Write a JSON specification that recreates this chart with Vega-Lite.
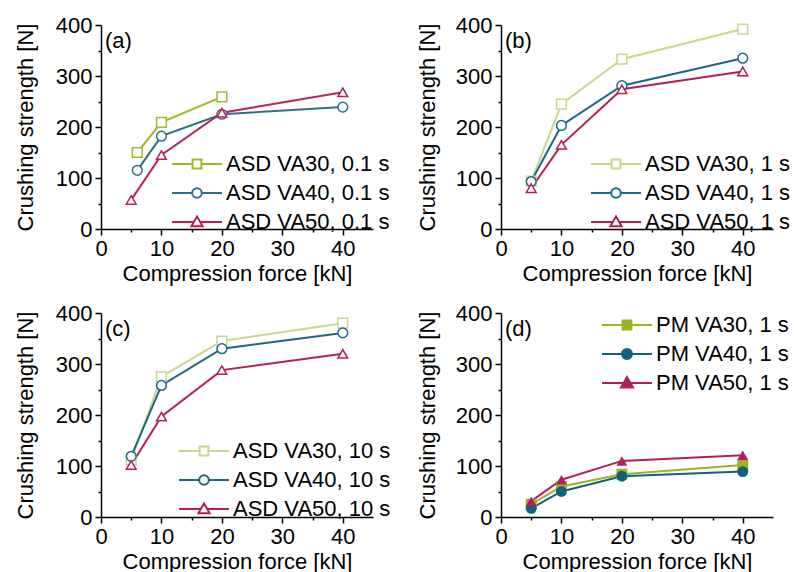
{
  "$schema": "https://vega.github.io/schema/vega-lite/v6.json",
  "background": "white",
  "padding": {"left": 14, "top": 14, "right": 0, "bottom": 0},
  "autosize": {"type": "pad"},
  "columns": 2,
  "spacing": {"row": 84, "column": 128},
  "bounds": "flush",
  "resolve": {"scale": {"color": "independent", "shape": "independent"}, "legend": {"color": "independent", "shape": "independent"}},
  "config": {
    "view": {"stroke": null},
    "font": "Liberation Sans",
    "axis": {
      "grid": false, "domainColor": "black", "domainWidth": 1.5, "tickColor": "black", "tickWidth": 1.5,
      "labelColor": "black", "titleColor": "black", "labelFont": "Liberation Sans", "titleFont": "Liberation Sans",
      "labelFontSize": 22, "titleFontSize": 22, "titleFontWeight": "normal", "labelOverlap": false, "labelFlush": false, "labelPadding": 3
    },
    "title": {"font": "Liberation Sans", "fontSize": 22, "fontWeight": "normal", "color": "black", "anchor": "start", "frame": "group", "baseline": "top", "offset": 0, "dx": 4, "dy": 43},
    "legend": {"orient": "none", "title": null, "labelFont": "Liberation Sans", "labelFontSize": 22, "labelColor": "black", "padding": 0, "rowPadding": 7, "symbolSize": 64, "symbolOffset": 0, "labelOffset": 18, "labelLimit": 400}
  },
  "data": {"values": [
    {"panel": "a", "series": "ASD VA30, 0.1 s", "grade": "VA30", "force": 6, "strength": 150},
    {"panel": "a", "series": "ASD VA30, 0.1 s", "grade": "VA30", "force": 10, "strength": 209},
    {"panel": "a", "series": "ASD VA30, 0.1 s", "grade": "VA30", "force": 20, "strength": 259},
    {"panel": "a", "series": "ASD VA40, 0.1 s", "grade": "VA40", "force": 6, "strength": 115},
    {"panel": "a", "series": "ASD VA40, 0.1 s", "grade": "VA40", "force": 10, "strength": 182},
    {"panel": "a", "series": "ASD VA40, 0.1 s", "grade": "VA40", "force": 20, "strength": 225},
    {"panel": "a", "series": "ASD VA40, 0.1 s", "grade": "VA40", "force": 40, "strength": 239},
    {"panel": "a", "series": "ASD VA50, 0.1 s", "grade": "VA50", "force": 5, "strength": 57},
    {"panel": "a", "series": "ASD VA50, 0.1 s", "grade": "VA50", "force": 10, "strength": 145},
    {"panel": "a", "series": "ASD VA50, 0.1 s", "grade": "VA50", "force": 20, "strength": 228},
    {"panel": "a", "series": "ASD VA50, 0.1 s", "grade": "VA50", "force": 40, "strength": 268},
    {"panel": "b", "series": "ASD VA30, 1 s", "grade": "VA30", "force": 5, "strength": 94},
    {"panel": "b", "series": "ASD VA30, 1 s", "grade": "VA30", "force": 10, "strength": 245},
    {"panel": "b", "series": "ASD VA30, 1 s", "grade": "VA30", "force": 20, "strength": 333},
    {"panel": "b", "series": "ASD VA30, 1 s", "grade": "VA30", "force": 40, "strength": 392},
    {"panel": "b", "series": "ASD VA40, 1 s", "grade": "VA40", "force": 5, "strength": 93},
    {"panel": "b", "series": "ASD VA40, 1 s", "grade": "VA40", "force": 10, "strength": 203},
    {"panel": "b", "series": "ASD VA40, 1 s", "grade": "VA40", "force": 20, "strength": 281},
    {"panel": "b", "series": "ASD VA40, 1 s", "grade": "VA40", "force": 40, "strength": 335},
    {"panel": "b", "series": "ASD VA50, 1 s", "grade": "VA50", "force": 5, "strength": 80},
    {"panel": "b", "series": "ASD VA50, 1 s", "grade": "VA50", "force": 10, "strength": 165},
    {"panel": "b", "series": "ASD VA50, 1 s", "grade": "VA50", "force": 20, "strength": 274},
    {"panel": "b", "series": "ASD VA50, 1 s", "grade": "VA50", "force": 40, "strength": 309},
    {"panel": "c", "series": "ASD VA30, 10 s", "grade": "VA30", "force": 5, "strength": 112},
    {"panel": "c", "series": "ASD VA30, 10 s", "grade": "VA30", "force": 10, "strength": 275},
    {"panel": "c", "series": "ASD VA30, 10 s", "grade": "VA30", "force": 20, "strength": 345},
    {"panel": "c", "series": "ASD VA30, 10 s", "grade": "VA30", "force": 40, "strength": 380},
    {"panel": "c", "series": "ASD VA40, 10 s", "grade": "VA40", "force": 5, "strength": 119},
    {"panel": "c", "series": "ASD VA40, 10 s", "grade": "VA40", "force": 10, "strength": 258},
    {"panel": "c", "series": "ASD VA40, 10 s", "grade": "VA40", "force": 20, "strength": 330},
    {"panel": "c", "series": "ASD VA40, 10 s", "grade": "VA40", "force": 40, "strength": 361},
    {"panel": "c", "series": "ASD VA50, 10 s", "grade": "VA50", "force": 5, "strength": 102},
    {"panel": "c", "series": "ASD VA50, 10 s", "grade": "VA50", "force": 10, "strength": 197},
    {"panel": "c", "series": "ASD VA50, 10 s", "grade": "VA50", "force": 20, "strength": 288},
    {"panel": "c", "series": "ASD VA50, 10 s", "grade": "VA50", "force": 40, "strength": 320},
    {"panel": "d", "series": "PM VA30, 1 s", "grade": "VA30", "force": 5, "strength": 25},
    {"panel": "d", "series": "PM VA30, 1 s", "grade": "VA30", "force": 10, "strength": 60},
    {"panel": "d", "series": "PM VA30, 1 s", "grade": "VA30", "force": 20, "strength": 84},
    {"panel": "d", "series": "PM VA30, 1 s", "grade": "VA30", "force": 40, "strength": 102},
    {"panel": "d", "series": "PM VA40, 1 s", "grade": "VA40", "force": 5, "strength": 17},
    {"panel": "d", "series": "PM VA40, 1 s", "grade": "VA40", "force": 10, "strength": 50},
    {"panel": "d", "series": "PM VA40, 1 s", "grade": "VA40", "force": 20, "strength": 80},
    {"panel": "d", "series": "PM VA40, 1 s", "grade": "VA40", "force": 40, "strength": 89},
    {"panel": "d", "series": "PM VA50, 1 s", "grade": "VA50", "force": 5, "strength": 31},
    {"panel": "d", "series": "PM VA50, 1 s", "grade": "VA50", "force": 10, "strength": 73},
    {"panel": "d", "series": "PM VA50, 1 s", "grade": "VA50", "force": 20, "strength": 110},
    {"panel": "d", "series": "PM VA50, 1 s", "grade": "VA50", "force": 40, "strength": 121}
  ]},
  "concat": [
    {
      "width": 272, "height": 204,
      "title": {"text": "(a)"},
      "transform": [{"filter": "datum.panel === 'a'"}],
      "encoding": {
        "x": {"field": "force", "type": "quantitative", "scale": {"domain": [0, 45], "nice": false},
          "axis": {"title": "Compression force [kN]", "values": [0, 5, 10, 15, 20, 25, 30, 35, 40], "labelExpr": "datum.value % 10 === 0 ? datum.label : ''", "tickSize": {"condition": {"test": "datum.value % 10 === 0", "value": 6}, "value": 3}, "titlePadding": 4}},
        "y": {"field": "strength", "type": "quantitative", "scale": {"domain": [0, 400], "nice": false},
          "axis": {"title": "Crushing strength [N]", "values": [0, 50, 100, 150, 200, 250, 300, 350, 400], "labelExpr": "datum.value % 100 === 0 ? datum.label : ''", "tickSize": {"condition": {"test": "datum.value % 100 === 0", "value": 6}, "value": 3}, "titlePadding": 18}},
        "color": {"field": "series", "type": "nominal",
          "scale": {"domain": ["ASD VA30, 0.1 s", "ASD VA40, 0.1 s", "ASD VA50, 0.1 s"], "range": ["#a3b52c", "#2f6e89", "#b8215c"]},
          "legend": {"legendX": 85, "legendY": 128,
            "encode": {"symbols": {"update": {
              "shape": {"signal": "datum.index === 0 ? 'M-6.25,0H-1.1M1.1,0H6.25M-1.1,-1.1H1.1V1.1H-1.1Z' : datum.index === 1 ? 'M-6.25,0H-1.2M1.2,0H6.25M1.2,0A1.2,1.2,0,1,1,-1.2,0A1.2,1.2,0,1,1,1.2,0Z' : 'M-6.25,0H-0.8M0.8,0H6.25M0,-1.4L1.4,1.05H-1.4Z'"},
              "stroke": {"signal": "['#a3b52c','#2f6e89','#b8215c'][datum.index]"},
              "fill": {"value": "white"},
              "strokeWidth": {"value": 2}, "size": {"value": 64}, "opacity": {"value": 1}
            }}}}}
      },
      "layer": [
        {"mark": {"type": "line", "strokeWidth": 2}},
        {"mark": {"type": "point", "filled": false, "fill": "white", "fillOpacity": 1, "opacity": 1, "size": 95, "strokeWidth": 1.5},
          "encoding": {"shape": {"field": "grade", "type": "nominal", "scale": {"domain": ["VA30", "VA40", "VA50"], "range": ["square", "circle", "triangle-up"]}, "legend": null}}}
      ]
    },
    {
      "width": 272, "height": 204,
      "title": {"text": "(b)"},
      "transform": [{"filter": "datum.panel === 'b'"}],
      "encoding": {
        "x": {"field": "force", "type": "quantitative", "scale": {"domain": [0, 45], "nice": false},
          "axis": {"title": "Compression force [kN]", "values": [0, 5, 10, 15, 20, 25, 30, 35, 40], "labelExpr": "datum.value % 10 === 0 ? datum.label : ''", "tickSize": {"condition": {"test": "datum.value % 10 === 0", "value": 6}, "value": 3}, "titlePadding": 4}},
        "y": {"field": "strength", "type": "quantitative", "scale": {"domain": [0, 400], "nice": false},
          "axis": {"title": "Crushing strength [N]", "values": [0, 50, 100, 150, 200, 250, 300, 350, 400], "labelExpr": "datum.value % 100 === 0 ? datum.label : ''", "tickSize": {"condition": {"test": "datum.value % 100 === 0", "value": 6}, "value": 3}, "titlePadding": 16}},
        "color": {"field": "series", "type": "nominal",
          "scale": {"domain": ["ASD VA30, 1 s", "ASD VA40, 1 s", "ASD VA50, 1 s"], "range": ["#c7d78d", "#1f6584", "#b31f59"]},
          "legend": {"legendX": 104, "legendY": 128,
            "encode": {"symbols": {"update": {
              "shape": {"signal": "datum.index === 0 ? 'M-6.25,0H-1.1M1.1,0H6.25M-1.1,-1.1H1.1V1.1H-1.1Z' : datum.index === 1 ? 'M-6.25,0H-1.2M1.2,0H6.25M1.2,0A1.2,1.2,0,1,1,-1.2,0A1.2,1.2,0,1,1,1.2,0Z' : 'M-6.25,0H-0.8M0.8,0H6.25M0,-1.4L1.4,1.05H-1.4Z'"},
              "stroke": {"signal": "['#c7d78d','#1f6584','#b31f59'][datum.index]"},
              "fill": {"value": "white"},
              "strokeWidth": {"value": 2}, "size": {"value": 64}, "opacity": {"value": 1}
            }}}}}
      },
      "layer": [
        {"mark": {"type": "line", "strokeWidth": 2}},
        {"mark": {"type": "point", "filled": false, "fill": "white", "fillOpacity": 1, "opacity": 1, "size": 95, "strokeWidth": 1.5},
          "encoding": {"shape": {"field": "grade", "type": "nominal", "scale": {"domain": ["VA30", "VA40", "VA50"], "range": ["square", "circle", "triangle-up"]}, "legend": null}}}
      ]
    },
    {
      "width": 272, "height": 204,
      "title": {"text": "(c)"},
      "transform": [{"filter": "datum.panel === 'c'"}],
      "encoding": {
        "x": {"field": "force", "type": "quantitative", "scale": {"domain": [0, 45], "nice": false},
          "axis": {"title": "Compression force [kN]", "values": [0, 5, 10, 15, 20, 25, 30, 35, 40], "labelExpr": "datum.value % 10 === 0 ? datum.label : ''", "tickSize": {"condition": {"test": "datum.value % 10 === 0", "value": 6}, "value": 3}, "titlePadding": 4}},
        "y": {"field": "strength", "type": "quantitative", "scale": {"domain": [0, 400], "nice": false},
          "axis": {"title": "Crushing strength [N]", "values": [0, 50, 100, 150, 200, 250, 300, 350, 400], "labelExpr": "datum.value % 100 === 0 ? datum.label : ''", "tickSize": {"condition": {"test": "datum.value % 100 === 0", "value": 6}, "value": 3}, "titlePadding": 18}},
        "color": {"field": "series", "type": "nominal",
          "scale": {"domain": ["ASD VA30, 10 s", "ASD VA40, 10 s", "ASD VA50, 10 s"], "range": ["#c7d78d", "#1f6584", "#b31f59"]},
          "legend": {"legendX": 92, "legendY": 127,
            "encode": {"symbols": {"update": {
              "shape": {"signal": "datum.index === 0 ? 'M-6.25,0H-1.1M1.1,0H6.25M-1.1,-1.1H1.1V1.1H-1.1Z' : datum.index === 1 ? 'M-6.25,0H-1.2M1.2,0H6.25M1.2,0A1.2,1.2,0,1,1,-1.2,0A1.2,1.2,0,1,1,1.2,0Z' : 'M-6.25,0H-0.8M0.8,0H6.25M0,-1.4L1.4,1.05H-1.4Z'"},
              "stroke": {"signal": "['#c7d78d','#1f6584','#b31f59'][datum.index]"},
              "fill": {"value": "white"},
              "strokeWidth": {"value": 2}, "size": {"value": 64}, "opacity": {"value": 1}
            }}}}}
      },
      "layer": [
        {"mark": {"type": "line", "strokeWidth": 2}},
        {"mark": {"type": "point", "filled": false, "fill": "white", "fillOpacity": 1, "opacity": 1, "size": 95, "strokeWidth": 1.5},
          "encoding": {"shape": {"field": "grade", "type": "nominal", "scale": {"domain": ["VA30", "VA40", "VA50"], "range": ["square", "circle", "triangle-up"]}, "legend": null}}}
      ]
    },
    {
      "width": 272, "height": 204,
      "title": {"text": "(d)"},
      "transform": [{"filter": "datum.panel === 'd'"}],
      "encoding": {
        "x": {"field": "force", "type": "quantitative", "scale": {"domain": [0, 45], "nice": false},
          "axis": {"title": "Compression force [kN]", "values": [0, 5, 10, 15, 20, 25, 30, 35, 40], "labelExpr": "datum.value % 10 === 0 ? datum.label : ''", "tickSize": {"condition": {"test": "datum.value % 10 === 0", "value": 6}, "value": 3}, "titlePadding": 4}},
        "y": {"field": "strength", "type": "quantitative", "scale": {"domain": [0, 400], "nice": false},
          "axis": {"title": "Crushing strength [N]", "values": [0, 50, 100, 150, 200, 250, 300, 350, 400], "labelExpr": "datum.value % 100 === 0 ? datum.label : ''", "tickSize": {"condition": {"test": "datum.value % 100 === 0", "value": 6}, "value": 3}, "titlePadding": 16}},
        "color": {"field": "series", "type": "nominal",
          "scale": {"domain": ["PM VA30, 1 s", "PM VA40, 1 s", "PM VA50, 1 s"], "range": ["#9cb41f", "#11607f", "#b41f5b"]},
          "legend": {"legendX": 115, "legendY": 1,
            "encode": {"symbols": {"update": {
              "shape": {"signal": "datum.index === 0 ? 'M-6.25,0H-1.1M1.1,0H6.25M-1.1,-1.1H1.1V1.1H-1.1Z' : datum.index === 1 ? 'M-6.25,0H-1.25M1.25,0H6.25M1.25,0A1.25,1.25,0,1,1,-1.25,0A1.25,1.25,0,1,1,1.25,0Z' : 'M-6.25,0H-0.8M0.8,0H6.25M0,-1.5L1.5,1.1H-1.5Z'"},
              "stroke": {"signal": "['#9cb41f','#11607f','#b41f5b'][datum.index]"},
              "fill": {"signal": "['#9cb41f','#11607f','#b41f5b'][datum.index]"},
              "strokeWidth": {"value": 2}, "size": {"value": 64}, "opacity": {"value": 1}
            }}}}}
      },
      "layer": [
        {"mark": {"type": "line", "strokeWidth": 2}},
        {"mark": {"type": "point", "filled": true, "opacity": 1, "size": 120},
          "encoding": {"shape": {"field": "grade", "type": "nominal", "scale": {"domain": ["VA30", "VA40", "VA50"], "range": ["square", "circle", "triangle-up"]}, "legend": null}}}
      ]
    }
  ]
}
